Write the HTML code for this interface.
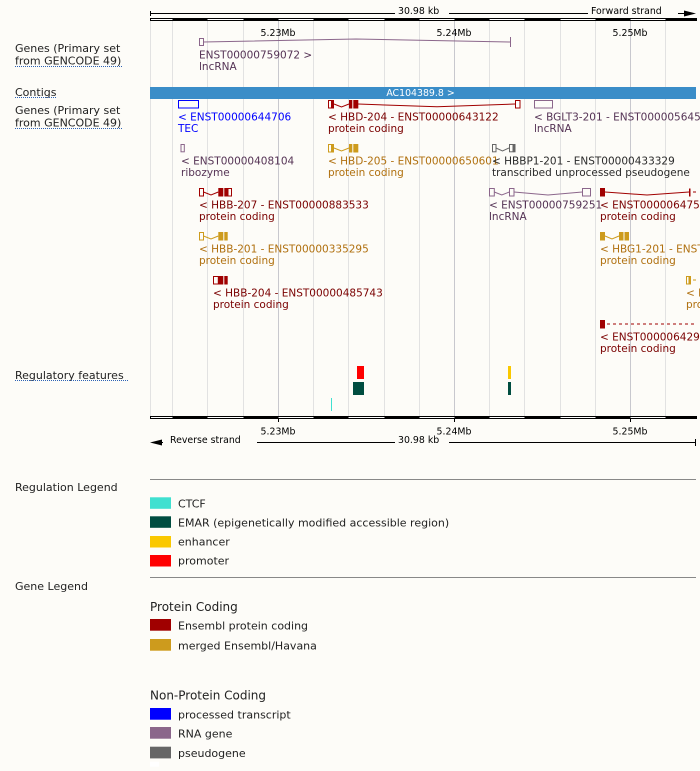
<!DOCTYPE html>
<html><head><meta charset="utf-8"><style>
html,body{margin:0;padding:0;background:#fdfcf8;}
svg{display:block;}
</style></head><body>
<svg xmlns="http://www.w3.org/2000/svg" width="700" height="771" viewBox="0 0 700 771" font-family="'DejaVu Sans','Liberation Sans',sans-serif">
<rect width="700" height="771" fill="#fdfcf8"/>

<!-- grid -->
<g stroke="#e2e2e2" stroke-width="1">
<line x1="150.5" y1="21" x2="150.5" y2="416"/>
<line x1="172.5" y1="21" x2="172.5" y2="416"/>
<line x1="207.5" y1="21" x2="207.5" y2="416"/>
<line x1="243.5" y1="21" x2="243.5" y2="416"/>
<line x1="313.5" y1="21" x2="313.5" y2="416"/>
<line x1="348.5" y1="21" x2="348.5" y2="416"/>
<line x1="384.5" y1="21" x2="384.5" y2="416"/>
<line x1="419.5" y1="21" x2="419.5" y2="416"/>
<line x1="489.5" y1="21" x2="489.5" y2="416"/>
<line x1="524.5" y1="21" x2="524.5" y2="416"/>
<line x1="560.5" y1="21" x2="560.5" y2="416"/>
<line x1="595.5" y1="21" x2="595.5" y2="416"/>
<line x1="665.5" y1="21" x2="665.5" y2="416"/>
</g>
<g stroke="#c8c8ce" stroke-width="1">
<line x1="278.5" y1="21" x2="278.5" y2="416"/>
<line x1="454.5" y1="21" x2="454.5" y2="416"/>
<line x1="630.5" y1="21" x2="630.5" y2="416"/>
</g>

<!-- top ruler -->
<g stroke="#000" stroke-width="1">
<line x1="150.5" y1="13.5" x2="395" y2="13.5"/>
<line x1="150.5" y1="11" x2="150.5" y2="16"/>
<line x1="449" y1="13.5" x2="588" y2="13.5"/>
<line x1="678" y1="13.5" x2="688" y2="13.5"/>
</g>
<polygon points="684,10.5 696,13.5 684,16.5" fill="#000"/>
<g font-size="9.4" fill="#000">
<text x="398" y="14">30.98 kb</text>
<text x="591" y="14">Forward strand</text>
<text x="278" y="36" text-anchor="middle">5.23Mb</text>
<text x="454" y="36" text-anchor="middle">5.24Mb</text>
<text x="630" y="36" text-anchor="middle">5.25Mb</text>
</g>
<rect x="150.5" y="18.5" width="546" height="2" fill="#fff" stroke="#000"/>
<g fill="#000">
<rect x="172.5" y="18" width="35" height="3"/>
<rect x="243.5" y="18" width="35" height="3"/>
<rect x="313.5" y="18" width="35" height="3"/>
<rect x="384.5" y="18" width="35" height="3"/>
<rect x="454.5" y="18" width="35" height="3"/>
<rect x="524.5" y="18" width="36" height="3"/>
<rect x="595.5" y="18" width="35" height="3"/>
<rect x="665.5" y="18" width="31" height="3"/>
</g>

<!-- left labels -->
<g font-size="11" fill="#222">
<text x="15" y="52">Genes (Primary set</text>
<text x="15" y="64.5">from GENCODE 49)</text>
<text x="15" y="96">Contigs</text>
<text x="15" y="114">Genes (Primary set</text>
<text x="15" y="126.5">from GENCODE 49)</text>
<text x="15" y="379">Regulatory features</text>
</g>
<g stroke="#2d62b5" stroke-width="1" stroke-dasharray="1,1">
<line x1="15" y1="66.5" x2="122" y2="66.5"/>
<line x1="15" y1="97.5" x2="57" y2="97.5"/>
<line x1="15" y1="128.5" x2="122" y2="128.5"/>
<line x1="15" y1="380.5" x2="129" y2="380.5"/>
</g>

<!-- forward gene -->
<rect x="199.5" y="38.5" width="4" height="7" fill="none" stroke="#8b668b"/>
<polyline points="203.5,42 356,39 510,42" fill="none" stroke="#8b668b"/>
<line x1="510.5" y1="37" x2="510.5" y2="47" stroke="#8b668b"/>
<g font-size="10.5" fill="#553355">
<text x="199" y="58.6">ENST00000759072 &gt;</text>
<text x="199" y="70">lncRNA</text>
</g>

<!-- contig -->
<rect x="150" y="87" width="546" height="12" fill="#3a8dc8"/>
<text x="420.5" y="96" font-size="9.4" fill="#fff" text-anchor="middle">AC104389.8 &gt;</text>

<!-- Row A -->
<rect x="178.5" y="100.5" width="20" height="7.5" fill="none" stroke="#0000ff"/>
<rect x="328.5" y="100.5" width="5" height="7.5" fill="none" stroke="#a00000"/>
<rect x="331" y="100" width="3" height="8.5" fill="#a00000"/>
<polyline points="334,104 341.5,107 349,104" fill="none" stroke="#a00000"/>
<rect x="349" y="100" width="3.3" height="8.5" fill="#a00000"/>
<rect x="353.3" y="100" width="5" height="8.5" fill="#a00000"/>
<polyline points="358,104 437,106.8 515,104" fill="none" stroke="#a00000"/>
<rect x="515.5" y="100.5" width="4.5" height="7.5" fill="#fff" stroke="#a00000"/>
<rect x="534.5" y="100.5" width="18" height="7.5" fill="none" stroke="#8b668b"/>
<g font-size="10.5">
<text x="178" y="120.5" fill="#0000ff">&lt; ENST00000644706</text>
<text x="178" y="131.8" fill="#0000ff">TEC</text>
<text x="328" y="120.5" fill="#7a0000">&lt; HBD-204 - ENST00000643122</text>
<text x="328" y="131.8" fill="#7a0000">protein coding</text>
<text x="534" y="120.5" fill="#553355">&lt; BGLT3-201 - ENST00000564523</text>
<text x="534" y="131.8" fill="#553355">lncRNA</text>
</g>

<!-- Row B -->
<rect x="181" y="144.5" width="3.3" height="7.3" fill="none" stroke="#8b668b"/>
<rect x="328.5" y="144.5" width="5" height="7.5" fill="none" stroke="#cd9b1d"/>
<rect x="331" y="144" width="3" height="8.5" fill="#cd9b1d"/>
<polyline points="334,148 341.5,151 349,148" fill="none" stroke="#cd9b1d"/>
<rect x="349" y="144" width="3.3" height="8.5" fill="#cd9b1d"/>
<rect x="353.3" y="144" width="5" height="8.5" fill="#cd9b1d"/>
<rect x="492.5" y="144.5" width="3.5" height="7.3" fill="none" stroke="#666"/>
<polyline points="496,148 502.5,151 509,148" fill="none" stroke="#666"/>
<rect x="509.5" y="144.5" width="3.5" height="7.3" fill="none" stroke="#666"/>
<rect x="513" y="144" width="2.5" height="8.3" fill="#666"/>
<g font-size="10.5">
<text x="181" y="164.5" fill="#553355">&lt; ENST00000408104</text>
<text x="181" y="175.8" fill="#553355">ribozyme</text>
<text x="328" y="164.5" fill="#b0700f">&lt; HBD-205 - ENST00000650601</text>
<text x="328" y="175.8" fill="#b0700f">protein coding</text>
<text x="492" y="164.5" fill="#2a2a2a">&lt; HBBP1-201 - ENST00000433329</text>
<text x="492" y="175.8" fill="#2a2a2a">transcribed unprocessed pseudogene</text>
</g>

<!-- Row C -->
<rect x="199.5" y="188.5" width="4" height="7.5" fill="none" stroke="#a00000"/>
<polyline points="203.5,192 211,195 218.3,192" fill="none" stroke="#a00000"/>
<rect x="218.3" y="188" width="5" height="8.5" fill="#a00000"/>
<rect x="224.3" y="188" width="3.4" height="8.5" fill="#a00000"/>
<rect x="228" y="188.5" width="3.5" height="7.5" fill="none" stroke="#a00000"/>
<rect x="489.5" y="188.5" width="4.8" height="7.5" fill="none" stroke="#8b668b"/>
<polyline points="494.3,192 501.8,195 509.3,192" fill="none" stroke="#8b668b"/>
<rect x="509.5" y="188.5" width="4.5" height="7.5" fill="none" stroke="#8b668b"/>
<polyline points="514,192 548,195 582.3,192" fill="none" stroke="#8b668b"/>
<rect x="582.5" y="188.5" width="8" height="7.5" fill="none" stroke="#8b668b"/>
<rect x="600" y="188" width="5" height="8.5" fill="#a00000"/>
<polyline points="605,192 647,195 689,192" fill="none" stroke="#a00000"/>
<rect x="689" y="188.5" width="1.5" height="8" fill="#a00000"/>
<line x1="693" y1="192" x2="696" y2="192" stroke="#a00000"/>
<g font-size="10.5">
<text x="199" y="208.6" fill="#7a0000">&lt; HBB-207 - ENST00000883533</text>
<text x="199" y="219.9" fill="#7a0000">protein coding</text>
<text x="489" y="208.6" fill="#553355">&lt; ENST00000759251</text>
<text x="489" y="219.9" fill="#553355">lncRNA</text>
<text x="600" y="208.6" fill="#7a0000">&lt; ENST00000647543</text>
<text x="600" y="219.9" fill="#7a0000">protein coding</text>
</g>

<!-- Row D -->
<rect x="199.5" y="232.5" width="4" height="7.5" fill="none" stroke="#cd9b1d"/>
<polyline points="203.5,236 211,239 218.3,236" fill="none" stroke="#cd9b1d"/>
<rect x="218.3" y="232" width="5" height="8.5" fill="#cd9b1d"/>
<rect x="224.3" y="232" width="3.4" height="8.5" fill="#cd9b1d"/>
<rect x="600" y="232" width="5" height="8.5" fill="#cd9b1d"/>
<polyline points="605,236 612,239 619,236" fill="none" stroke="#cd9b1d"/>
<rect x="619" y="232" width="4.5" height="8.5" fill="#cd9b1d"/>
<rect x="624.5" y="232" width="4.5" height="8.5" fill="#cd9b1d"/>
<g font-size="10.5" fill="#b0700f">
<text x="199" y="252.6">&lt; HBB-201 - ENST00000335295</text>
<text x="199" y="263.9">protein coding</text>
<text x="600" y="252.6">&lt; HBG1-201 - ENST00000330597</text>
<text x="600" y="263.9">protein coding</text>
</g>

<!-- Row E -->
<rect x="213.5" y="276.5" width="4.8" height="7.5" fill="none" stroke="#a00000"/>
<rect x="218.3" y="276" width="5" height="8.5" fill="#a00000"/>
<rect x="224.3" y="276" width="3.4" height="8.5" fill="#a00000"/>
<rect x="686.5" y="276.5" width="2.5" height="7.5" fill="none" stroke="#cd9b1d"/>
<rect x="689" y="276" width="2" height="8.5" fill="#cd9b1d"/>
<line x1="693" y1="280" x2="696" y2="280" stroke="#cd9b1d"/>
<g font-size="10.5">
<text x="213" y="296.6" fill="#7a0000">&lt; HBB-204 - ENST00000485743</text>
<text x="213" y="307.9" fill="#7a0000">protein coding</text>
<text x="686" y="296.6" fill="#b0700f">&lt; HBG2-201</text>
<text x="686" y="307.9" fill="#b0700f">protein coding</text>
</g>

<!-- Row F -->
<rect x="600" y="320" width="5" height="8.5" fill="#a00000"/>
<line x1="607" y1="324" x2="696" y2="324" stroke="#a00000" stroke-dasharray="3,3"/>
<g font-size="10.5" fill="#7a0000">
<text x="600" y="340.6">&lt; ENST00000642908</text>
<text x="600" y="351.9">protein coding</text>
</g>

<!-- regulatory -->
<rect x="357" y="366" width="7" height="13" fill="#ff0000"/>
<rect x="353" y="382" width="11" height="13" fill="#004d40"/>
<rect x="331" y="398" width="1" height="13" fill="#40e0d0"/>
<rect x="508" y="366" width="3" height="13" fill="#fac800"/>
<rect x="508" y="382" width="3" height="13" fill="#004d40"/>

<!-- bottom ruler -->
<rect x="150.5" y="416.5" width="546" height="2" fill="#fff" stroke="#000"/>
<g fill="#000">
<rect x="172.5" y="416" width="35" height="3"/>
<rect x="243.5" y="416" width="35" height="3"/>
<rect x="313.5" y="416" width="35" height="3"/>
<rect x="384.5" y="416" width="35" height="3"/>
<rect x="454.5" y="416" width="35" height="3"/>
<rect x="524.5" y="416" width="36" height="3"/>
<rect x="595.5" y="416" width="35" height="3"/>
<rect x="665.5" y="416" width="31" height="3"/>
</g>
<g stroke="#000" stroke-width="1">
<line x1="278.5" y1="419" x2="278.5" y2="422"/>
<line x1="454.5" y1="419" x2="454.5" y2="422"/>
<line x1="630.5" y1="419" x2="630.5" y2="422"/>
<line x1="156" y1="442.5" x2="163" y2="442.5"/>
<line x1="257" y1="442.5" x2="395" y2="442.5"/>
<line x1="449" y1="442.5" x2="696" y2="442.5"/>
<line x1="695.5" y1="439" x2="695.5" y2="446"/>
</g>
<polygon points="150,442.5 162,439.5 162,445.5" fill="#000"/>
<g font-size="9.4" fill="#000">
<text x="278" y="434.5" text-anchor="middle">5.23Mb</text>
<text x="454" y="434.5" text-anchor="middle">5.24Mb</text>
<text x="630" y="434.5" text-anchor="middle">5.25Mb</text>
<text x="170" y="443">Reverse strand</text>
<text x="398" y="443">30.98 kb</text>
</g>

<!-- legends -->
<g stroke="#888" stroke-width="1">
<line x1="150" y1="479.5" x2="696" y2="479.5"/>
<line x1="150" y1="577.5" x2="696" y2="577.5"/>
</g>
<g font-size="11" fill="#222">
<text x="15" y="491">Regulation Legend</text>
<text x="15" y="590">Gene Legend</text>
<text x="178" y="507.5">CTCF</text>
<text x="178" y="526.5">EMAR (epigenetically modified accessible region)</text>
<text x="178" y="545.5">enhancer</text>
<text x="178" y="564.5">promoter</text>
<text x="178" y="629.7">Ensembl protein coding</text>
<text x="178" y="649.3">merged Ensembl/Havana</text>
<text x="178" y="718.3">processed transcript</text>
<text x="178" y="737.3">RNA gene</text>
<text x="178" y="757">pseudogene</text>
</g>
<g font-size="12" fill="#222">
<text x="150" y="611">Protein Coding</text>
<text x="150" y="699.5">Non-Protein Coding</text>
</g>
<rect x="150" y="497.3" width="21" height="11.5" fill="#40e0d0"/>
<rect x="150" y="516.3" width="21" height="11.5" fill="#004d40"/>
<rect x="150" y="536" width="21" height="11.5" fill="#fac800"/>
<rect x="150" y="555" width="21" height="11.5" fill="#ff0000"/>
<rect x="150" y="619" width="21" height="11.7" fill="#a00000"/>
<rect x="150" y="639" width="21" height="11.7" fill="#cd9b1d"/>
<rect x="150" y="708" width="21" height="11.7" fill="#0000ff"/>
<rect x="150" y="727" width="21" height="11.7" fill="#8b668b"/>
<rect x="150" y="746.7" width="21" height="11.7" fill="#666666"/>
<rect x="150" y="761.7" width="9" height="5" fill="#ffffff"/>
</svg>
</body></html>
